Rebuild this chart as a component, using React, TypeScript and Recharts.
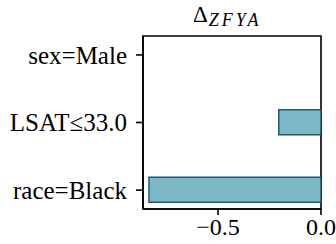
import { Bar, BarChart, XAxis, YAxis, ReferenceArea } from "recharts"

const categories = ["sex=Male", "LSAT≤33.0", "race=Black"]
const deltaValues = [0, -0.205, -0.835]
const xTicks = [-0.5, 0]

const data = categories.map((name, i) => ({ idx: i, name, delta: deltaValues[i] }))

const serif = "'Times New Roman', 'Liberation Serif', 'DejaVu Serif', 'Noto Serif', Georgia, serif"

const fmtX = (v: number) => (v < 0 ? `\u2212${Math.abs(v).toFixed(1)}` : v.toFixed(1))

export default function App() {
  return (
    <div style={{ position: "absolute", left: 0, top: 0, width: 336, height: 244, background: "#fff" }}>
      <div
        style={{
          position: "absolute",
          left: 193,
          top: 2,
          fontFamily: serif,
          fontSize: 23,
          lineHeight: "26px",
          whiteSpace: "nowrap",
          color: "#000",
        }}
      >
        Δ
        <span style={{ fontStyle: "italic", fontSize: 18, letterSpacing: 3, position: "relative", top: 4, left: 1 }}>
          ZFYA
        </span>
      </div>
      <BarChart
        width={336}
        height={244}
        data={data}
        layout="vertical"
        margin={{ top: 36, right: 15, bottom: 0, left: 0 }}
        style={{ fontFamily: serif }}
      >
        <XAxis
          type="number"
          dataKey="delta"
          domain={[-0.864, 0]}
          ticks={xTicks}
          tickFormatter={fmtX}
          height={35}
          tickSize={6}
          tickMargin={3}
          stroke="#000"
          strokeWidth={1.6}
          tick={{ fill: "#000", fontFamily: serif, fontSize: 24 }}
          allowDataOverflow
        />
        <YAxis
          type="number"
          dataKey="idx"
          domain={[-0.28, 2.28]}
          ticks={[0, 1, 2]}
          tickFormatter={(v: number) => categories[v] ?? ""}
          width={143}
          tickSize={7}
          tickMargin={9}
          stroke="#000"
          strokeWidth={1.6}
          tick={{ fill: "#000", fontFamily: serif, fontSize: 25 }}
          allowDataOverflow
        />
        <ReferenceArea
          x1={-0.864}
          x2={0}
          y1={-0.28}
          y2={2.28}
          fill="none"
          stroke="#000"
          strokeWidth={1.6}
          fillOpacity={0}
          ifOverflow="visible"
        />
        <Bar
          dataKey="delta"
          fill="#7eb9ca"
          stroke="#1f5a6c"
          strokeWidth={1.5}
          barSize={25}
          isAnimationActive={false}
        />
      </BarChart>
    </div>
  )
}
